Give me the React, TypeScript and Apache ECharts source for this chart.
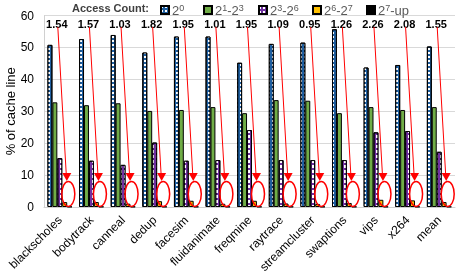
import React, { useEffect, useRef } from "react";
import * as echarts from "echarts";

const categories = ["blackscholes", "bodytrack", "canneal", "dedup", "facesim", "fluidanimate", "freqmine", "raytrace", "streamcluster", "swaptions", "vips", "x264", "mean"];
const seriesNames = ["2^0", "2^1-2^3", "2^3-2^6", "2^6-2^7", "2^7-up"];
const s20 = [50.8, 52.6, 53.9, 48.4, 53.4, 53.4, 45.2, 51.1, 51.5, 55.7, 43.7, 44.5, 50.3];
const s21_23 = [32.8, 31.9, 32.5, 30.1, 30.4, 31.3, 29.4, 33.5, 33.3, 29.4, 31.3, 30.4, 31.3];
const s23_26 = [15.3, 14.5, 13.2, 20.2, 14.5, 14.7, 24.1, 14.7, 14.7, 14.7, 23.4, 23.8, 17.3];
const s26_27 = [1.54, 1.57, 1.03, 1.82, 1.95, 1.01, 1.95, 1.09, 0.95, 1.26, 2.26, 2.08, 1.55];
const s27_up = [0.1, 0.1, 0.1, 0.1, 0.1, 0.1, 0.1, 0.1, 0.1, 0.1, 0.1, 0.1, 0.1];
const yTicks = [0, 10, 20, 30, 40, 50, 60];
const legendLefts = [160, 203, 258, 312, 366];

const toRich = (name: string) => name.replace(/\^(\d)/g, "{s|$1}").replace(/(^|\})([^{]+)(?=\{|$)/g, (m, a, b) => `${a}{b|${b}}`);

export default function App() {
  const ref = useRef<HTMLDivElement>(null);
  useEffect(() => {
    const chart = echarts.init(ref.current!, null, { renderer: "svg" });
    const border = { borderColor: "#000", borderWidth: 1 };
    const legends = seriesNames.map((n, k) => ({
      data: [n],
      left: legendLefts[k],
      top: 3,
      padding: 0,
      itemWidth: 8,
      itemHeight: 8,
      icon: "rect",
      formatter: (name: string) => toRich(name),
      textStyle: {
        color: "#595959",
        padding: [0, 0, 0, -2],
        rich: {
          b: { fontSize: 13, color: "#595959", fontFamily: "Liberation Sans", lineHeight: 14, verticalAlign: "bottom" },
          s: { fontSize: 9, color: "#595959", fontFamily: "Liberation Sans", lineHeight: 14, verticalAlign: "top" },
        },
      },
    }));
    const option: any = {
      animation: false,
      textStyle: { fontFamily: "Liberation Sans" },
      title: {
        text: "Access Count:",
        left: 72,
        top: 2,
        padding: 0,
        textStyle: { fontSize: 11, fontWeight: "bold", color: "#404040", fontFamily: "Liberation Sans" },
      },
      legend: legends,
      grid: { left: 44, right: 2, top: 15.5, bottom: 72, outerBoundsMode: "none", containLabel: false },
      xAxis: {
        type: "category",
        data: categories,
        axisTick: { show: false },
        axisLine: { lineStyle: { color: "#d0d0d0" } },
        axisLabel: { rotate: 45, fontSize: 12, color: "#000", margin: 11, interval: 0 },
      },
      yAxis: {
        type: "value",
        min: yTicks[0],
        max: yTicks[yTicks.length - 1],
        interval: 10,
        name: "% of cache line",
        nameLocation: "middle",
        nameGap: 27,
        nameMoveOverlap: false,
        nameTextStyle: { fontSize: 13, color: "#000" },
        axisLine: { show: true, lineStyle: { color: "#d0d0d0" } },
        axisLabel: { fontSize: 12, color: "#000", margin: 10 },
        splitLine: { lineStyle: { color: "#d9d9d9" } },
      },
      series: [
        {
          name: seriesNames[0],
          type: "bar",
          data: s20,
          barGap: "0%",
          barCategoryGap: "22%",
          itemStyle: {
            color: "#1f5fa0",
            ...border,
            decal: { symbol: "rect", symbolSize: 1, color: "#ffffff", dashArrayX: [1.5, 1.5], dashArrayY: [1.5, 1.5], rotation: 0 },
          },
        },
        { name: seriesNames[1], type: "bar", data: s21_23, barGap: "0%", barCategoryGap: "22%", itemStyle: { color: "#70ad47", ...border } },
        {
          name: seriesNames[2],
          type: "bar",
          data: s23_26,
          barGap: "0%",
          barCategoryGap: "22%",
          itemStyle: {
            color: "#7030a0",
            ...border,
            decal: { symbol: "rect", symbolSize: 1, color: "#ffffff", dashArrayX: [2, 2], dashArrayY: [3, 2], rotation: 0 },
          },
        },
        { name: seriesNames[3], type: "bar", data: s26_27, barGap: "0%", barCategoryGap: "22%", itemStyle: { color: "#ffc000", ...border } },
        { name: seriesNames[4], type: "bar", data: s27_up, barGap: "0%", barCategoryGap: "22%", itemStyle: { color: "#000", ...border } },
        {
          type: "custom",
          data: s26_27.map((v, i) => [i, v]),
          z: 10,
          silent: true,
          renderItem: (params: any, api: any) => {
            const i = api.value(0);
            const v = api.value(1);
            const cx = api.coord([i, 0])[0];
            const yLabel = api.coord([i, 57.4])[1];
            const yStart = api.coord([i, 56.4])[1];
            const yTip = api.coord([i, 8.15])[1];
            const yEll = api.coord([i, 4.1])[1];
            return {
              type: "group",
              children: [
                {
                  type: "text",
                  style: {
                    text: Number(v).toFixed(2),
                    x: cx - 3,
                    y: yLabel,
                    align: "center",
                    verticalAlign: "middle",
                    font: "bold 11px 'Liberation Sans'",
                    fill: "#000",
                  },
                },
                {
                  type: "line",
                  shape: { x1: cx - 2, y1: yStart, x2: cx + 6.5, y2: yTip - 6 },
                  style: { stroke: "#ff0000", lineWidth: 1 },
                },
                {
                  type: "polygon",
                  shape: { points: [[cx + 2.5, yTip - 8], [cx + 11.5, yTip - 8], [cx + 7, yTip]] },
                  style: { fill: "#ff0000" },
                },
                {
                  type: "ellipse",
                  shape: { cx: cx + 8.5, cy: yEll, rx: 6.5, ry: 12.5 },
                  style: { fill: "none", stroke: "#ff0000", lineWidth: 1.5 },
                },
              ],
            };
          },
        },
      ],
    };
    chart.setOption(option);
    return () => chart.dispose();
  }, []);
  return <div ref={ref} style={{ position: "fixed", left: 0, top: 0, width: 457, height: 279 }} />;
}
